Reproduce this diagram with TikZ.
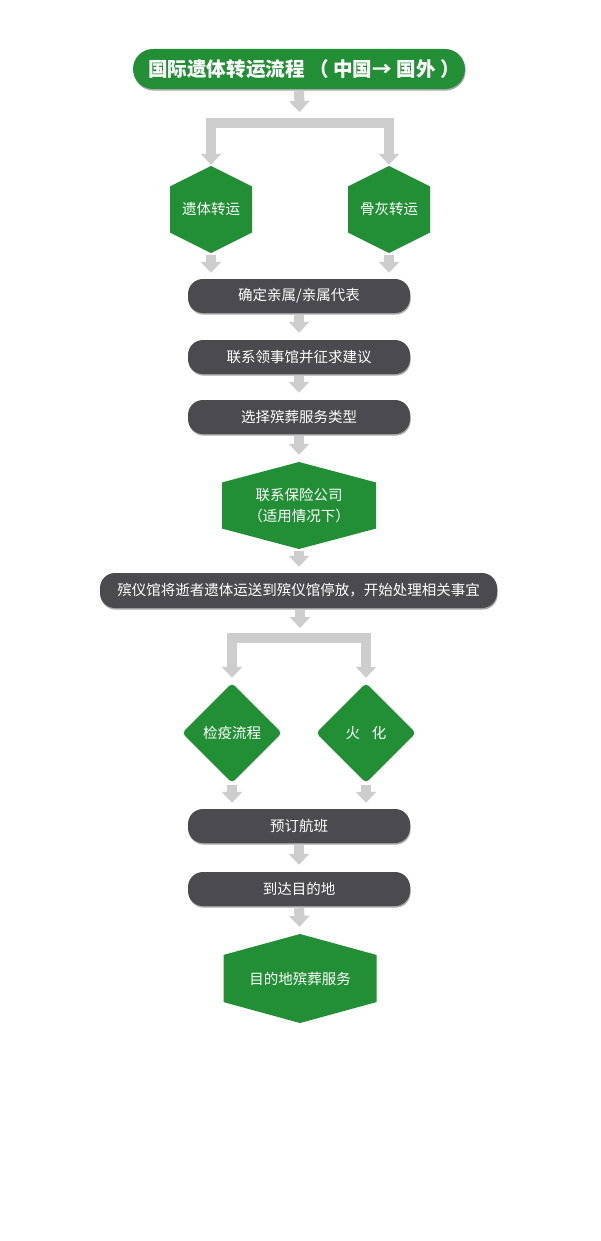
\documentclass[tikz,border=0pt]{standalone}
\usepackage{fontspec}
\setmainfont{Noto Sans CJK SC}
\usetikzlibrary{arrows.meta,shapes.geometric,calc,shadows}
\definecolor{fgreen}{RGB}{34,142,54}
\definecolor{fdark}{RGB}{74,74,79}
\definecolor{farrow}{RGB}{205,205,205}
\begin{document}
\begin{tikzpicture}[x=1pt,y=-1pt,
  tip/.tip={Triangle[width=20pt,length=11pt]},
  garrow/.style={draw=farrow, line width=10pt, -tip, shorten <=2pt},
  gbranch/.style={draw=farrow, line width=10pt, tip-tip, line join=miter},
  shade/.style={drop shadow={shadow xshift=0.6pt, shadow yshift=-1.6pt, opacity=0.35, fill=black}},
  titlebox/.style={shade, fill=fgreen, text=white, rounded corners=20pt, minimum width=332pt, minimum height=40pt, inner sep=0pt, font=\fontsize{19.6}{22}\selectfont\bfseries},
  darkbox/.style={shade, fill=fdark, text=white, rounded corners=15pt, minimum width=222pt, minimum height=34pt, inner sep=0pt, font=\fontsize{14.5}{17}\selectfont},
  hexa/.style={inner sep=0pt, text=white, align=center, font=\fontsize{14.5}{21}\selectfont,
    path picture={
      \fill[fgreen] (path picture bounding box.north)
        -- ($(path picture bounding box.north east)!0.235!(path picture bounding box.south east)$)
        -- ($(path picture bounding box.north east)!0.765!(path picture bounding box.south east)$)
        -- (path picture bounding box.south)
        -- ($(path picture bounding box.north west)!0.765!(path picture bounding box.south west)$)
        -- ($(path picture bounding box.north west)!0.235!(path picture bounding box.south west)$)
        -- cycle;}},
  dia/.style={diamond, aspect=1, fill=fgreen, text=white, minimum width=100pt, minimum height=100pt, inner sep=0pt, rounded corners=4pt, font=\fontsize{14.5}{17}\selectfont}
]
\useasboundingbox[fill=white] (0,0) rectangle (600,1241);

% nodes
\node[titlebox] (t) at (299,69) {\hspace{10pt}国际遗体转运流程 （ 中国→ 国外 ）};
\coordinate (br1) at (300,123);
\node[hexa, minimum width=82pt, minimum height=87pt] (h1) at (211,209.5) {遗体转运};
\node[hexa, minimum width=82pt, minimum height=87pt] (h2) at (389,209.5) {骨灰转运};
\node[darkbox] (b1) at (299,296) {确定亲属/亲属代表};
\node[darkbox] (b2) at (299,357) {联系领事馆并征求建议};
\node[darkbox] (b3) at (299,417) {选择殡葬服务类型};
\node[hexa, minimum width=154pt, minimum height=87pt] (h3) at (299,505.5) {联系保险公司\\（适用情况下）};
\node[darkbox, minimum width=397pt, minimum height=35pt] (b4) at (298.5,590.5) {殡仪馆将逝者遗体运送到殡仪馆停放，开始处理相关事宜};
\coordinate (br2) at (300,638);
\node[dia] (d1) at (232,733) {检疫流程};
\node[dia] (d2) at (366,733) {火\hspace{0.8em}化};
\node[darkbox] (b5) at (299,826) {预订航班};
\node[darkbox] (b6) at (299,889) {到达目的地};
\node[hexa, minimum width=153pt, minimum height=89pt] (h4) at (300,978.5) {目的地殡葬服务};

% connectors
\draw[garrow, shorten >=11pt] (t.south) -- (br1);
\draw[gbranch, shorten <=1pt, shorten >=1pt] (h1.north) |- (br1) -| (h2.north);
\draw[garrow, shorten >=6pt] (h1.south) -- (h1.south |- b1.north);
\draw[garrow, shorten >=6pt] (h2.south) -- (h2.south |- b1.north);
\draw[garrow, shorten >=7pt] (b1.south) -- (b2.north);
\draw[garrow, shorten >=7pt] (b2.south) -- (b3.north);
\draw[garrow, shorten >=7pt] (b3.south) -- (h3.north);
\draw[garrow, shorten >=6pt] (h3.south) -- (h3.south |- b4.north);
\draw[garrow, shorten >=10pt] (b4.south -| br2) -- (br2);
\draw[gbranch, shorten <=5pt, shorten >=5pt] (d1.north) |- (br2) -| (d2.north);
\draw[garrow, shorten >=6pt] (d1.south) -- (d1.south |- b5.north);
\draw[garrow, shorten >=6pt] (d2.south) -- (d2.south |- b5.north);
\draw[garrow, shorten >=7pt] (b5.south) -- (b6.north);
\draw[garrow, shorten >=7pt] (b6.south) -- (h4.north);
\end{tikzpicture}
\end{document}
